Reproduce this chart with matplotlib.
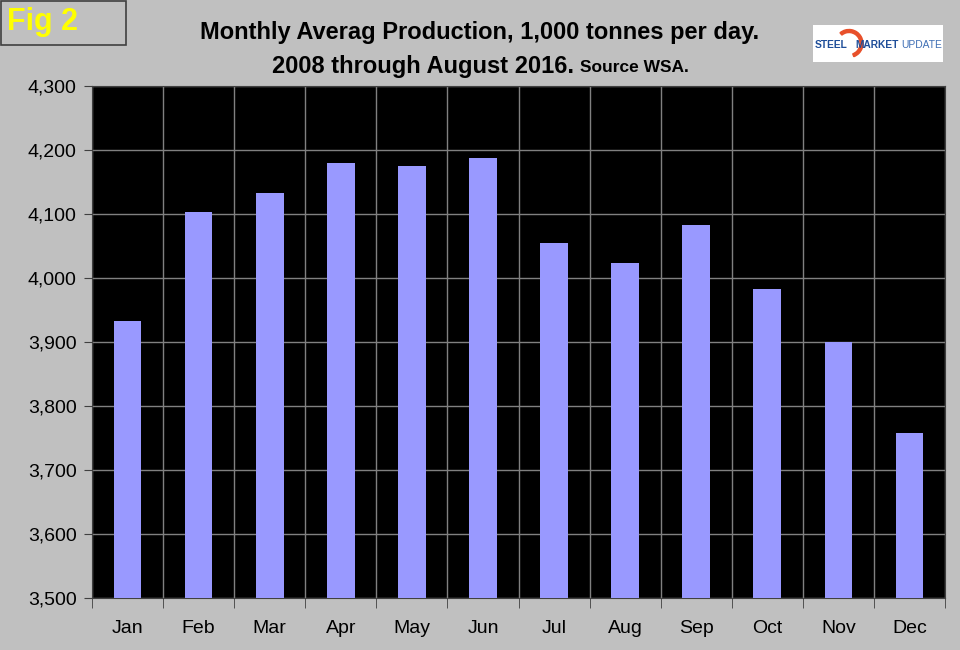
import numpy as np
import matplotlib.pyplot as plt
from matplotlib.patches import Rectangle, Wedge

plt.rcParams['font.family'] = ['Liberation Sans', 'DejaVu Sans']

# Monthly average production, 1,000 tonnes per day
months = ['Jan', 'Feb', 'Mar', 'Apr', 'May', 'Jun',
          'Jul', 'Aug', 'Sep', 'Oct', 'Nov', 'Dec']
production = [3933, 4103, 4133, 4180, 4175, 4187,
              4055, 4023, 4083, 3983, 3900, 3758]
y_ticks = [3500, 3600, 3700, 3800, 3900, 4000, 4100, 4200, 4300]

fig = plt.figure(figsize=(9.6, 6.5), dpi=100, facecolor='#c0c0c0')
ax = fig.add_axes([92 / 960, 1 - 598 / 650, (945 - 92) / 960, (598 - 86) / 650])
ax.set_facecolor('black')

x = np.arange(len(months))
ax.bar(x, production, width=0.39, color='#9999ff', zorder=3)

ax.set_xlim(-0.5, len(months) - 0.5)
ax.set_ylim(y_ticks[0], y_ticks[-1])
ax.set_yticks(y_ticks)
ax.set_yticklabels([f"{v:,}" for v in y_ticks], fontsize=14)
ax.set_xticks(x)
ax.set_xticklabels(months, fontsize=14)
ax.tick_params(axis='x', length=0, pad=16)
ax.tick_params(axis='y', length=6, color='#404040', pad=5)

# category boundary lines and ticks
ax.set_xticks(np.arange(-0.5, len(months) + 0.5, 1), minor=True)
ax.tick_params(axis='x', which='minor', length=7, color='#404040')
ax.grid(axis='x', which='minor', color='#808080', linewidth=1, zorder=1)
ax.grid(axis='y', which='major', color='#808080', linewidth=1, zorder=1)
for s in ax.spines.values():
    s.set_color('#404040')

fig.text(480 / 960, 1 - 33 / 650, 'Monthly Averag Production, 1,000 tonnes per day.',
         ha='center', va='center', fontsize=17, fontweight='bold')
fig.text(574 / 960, 1 - 66 / 650, '2008 through August 2016.',
         ha='right', va='center', fontsize=17, fontweight='bold')
fig.text(580 / 960, 1 - 68 / 650, 'Source WSA.',
         ha='left', va='center', fontsize=12.5, fontweight='bold')

# "Fig 2" label box
fig.patches.append(Rectangle((0.5 / 960, 1 - 45 / 650), 125 / 960, 44.5 / 650,
                             transform=fig.transFigure, facecolor='#c0c0c0',
                             edgecolor='#404040', linewidth=1.2))
fig.text(7 / 960, 1 - 22 / 650, 'Fig 2', ha='left', va='center',
         fontsize=22, fontweight='bold', color='yellow')

# logo
lax = fig.add_axes([813 / 960, 1 - 62 / 650, 130 / 960, 37 / 650])
lax.set_xlim(0, 130)
lax.set_ylim(0, 37)
lax.set_facecolor('white')
lax.set_xticks([])
lax.set_yticks([])
for s in lax.spines.values():
    s.set_visible(False)
lax.add_patch(Wedge((36, 18.5), 14, -70, 130, width=3, color='#e8502a'))
lax.text(2, 16.5, 'STEEL', fontsize=7.4, fontweight='bold', color='#1f4e99', va='center')
lax.text(42, 16.5, 'MARKET', fontsize=7.4, fontweight='bold', color='#1f4e99', va='center')
lax.text(88, 16.5, 'UPDATE', fontsize=7.4, color='#3f6fb5', va='center')

fig.savefig('out.png', dpi=100, facecolor=fig.get_facecolor())
